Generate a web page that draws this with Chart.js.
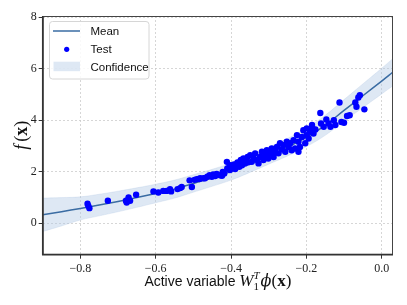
<!DOCTYPE html>
<html>
<head>
    <title>Active variable response surface</title>
    <script src="https://cdn.jsdelivr.net/npm/chart.js"></script>
    <style>
        body {
            margin: 0;
            padding: 0;
            background: #fff;
        }

        #chart-container {
            width: 407px;
            height: 305px;
        }
    </style>
</head>
<body>
    <div id="chart-container">
        <canvas id="myChart"></canvas>
    </div>

    <script>
        const gridX = [-0.9, -0.85, -0.8, -0.75, -0.7, -0.65, -0.6, -0.55, -0.5, -0.45,
                       -0.4, -0.35, -0.3, -0.25, -0.2, -0.15, -0.1, -0.05, 0, 0.03];
        const meanY = [0.32, 0.44, 0.57, 0.70, 0.84, 0.99, 1.15, 1.32, 1.54, 1.76,
                       2.00, 2.30, 2.62, 2.95, 3.33, 3.80, 4.38, 4.95, 5.52, 5.87];
        const upperY = [0.97, 0.99, 1.02, 1.12, 1.24, 1.37, 1.51, 1.67, 1.88, 2.09,
                        2.33, 2.63, 2.95, 3.29, 3.69, 4.19, 4.80, 5.41, 6.02, 6.40];
        const lowerY = [-0.33, -0.11, 0.12, 0.28, 0.44, 0.61, 0.79, 0.97, 1.20, 1.43,
                        1.67, 1.97, 2.29, 2.61, 2.97, 3.41, 3.96, 4.49, 5.02, 5.34];

        // test samples
        const testX = [-0.781, -0.779, -0.776, -0.727, -0.679, -0.672, -0.668, -0.677, -0.652,
                       -0.606, -0.593, -0.580, -0.571, -0.562, -0.559, -0.542, -0.535, -0.531,
                       -0.510, -0.504, -0.497, -0.491, -0.482, -0.473, -0.484, -0.469, -0.463,
                       -0.457, -0.451, -0.447, -0.442, -0.438, -0.429, -0.424, -0.422, -0.418,
                       -0.411, -0.410, -0.404, -0.403, -0.401, -0.396, -0.392, -0.389, -0.385,
                       -0.383, -0.378, -0.374, -0.371, -0.367, -0.363, -0.360, -0.356, -0.354,
                       -0.349, -0.345, -0.340, -0.336, -0.331, -0.327, -0.323, -0.318, -0.314,
                       -0.309, -0.305, -0.301, -0.296, -0.292, -0.287, -0.283, -0.278, -0.274,
                       -0.270, -0.265, -0.261, -0.256, -0.252, -0.247, -0.243, -0.239, -0.234,
                       -0.230, -0.225, -0.221, -0.217, -0.212, -0.208, -0.203, -0.199, -0.194,
                       -0.190, -0.185, -0.181, -0.221, -0.199, -0.185, -0.176, -0.163, -0.161,
                       -0.154, -0.147, -0.141, -0.136, -0.127, -0.123, -0.112, -0.107, -0.100,
                       -0.092, -0.085, -0.070, -0.067, -0.062, -0.058, -0.046];
        const testY = [0.75, 0.67, 0.58, 0.87, 0.87, 1.00, 0.87, 0.80, 1.10,
                       1.23, 1.19, 1.25, 1.25, 1.32, 1.23, 1.32, 1.36, 1.40,
                       1.66, 1.40, 1.68, 1.71, 1.74, 1.74, 1.71, 1.74, 1.80,
                       1.86, 1.80, 1.89, 1.83, 1.91, 1.86, 1.84, 1.99, 1.93,
                       2.38, 2.12, 2.19, 2.06, 2.25, 2.15, 2.28, 2.10, 2.25,
                       2.36, 2.19, 2.45, 2.25, 2.51, 2.32, 2.41, 2.57, 2.36,
                       2.64, 2.38, 2.51, 2.71, 2.45, 2.32, 2.57, 2.77, 2.45,
                       2.64, 2.83, 2.51, 2.71, 2.90, 2.57, 2.77, 2.96, 2.71,
                       3.10, 2.86, 3.03, 2.77, 3.16, 2.96, 3.10, 2.83, 3.22,
                       2.90, 3.42, 3.16, 2.96, 3.35, 3.61, 3.10, 3.42, 3.29,
                       3.55, 3.74, 3.48, 2.77, 3.68, 3.81, 3.64, 4.28, 3.87,
                       3.74, 4.03, 3.87, 3.74, 4.00, 3.81, 4.69, 3.93, 3.90,
                       4.16, 4.19, 4.69, 4.52, 4.88, 4.97, 4.42];

        const xTicks = [-0.8, -0.6, -0.4, -0.2, 0.0];
        const yTicks = [0, 2, 4, 6, 8];

        const lineColor = '#3a6ca3';
        const bandColor = 'rgba(176, 200, 228, 0.42)';
        const pointColor = '#0000ff';
        const serif = '"Liberation Serif", "DejaVu Serif", serif';
        const sans = '"Liberation Sans", "DejaVu Sans", sans-serif';

        const toPoints = (xs, ys) => xs.map((x, i) => ({ x: x, y: ys[i] }));

        function fmtX(v) {
            const s = Math.abs(v).toFixed(1);
            return v < -1e-9 ? '\u2212' + s : s;
        }

        // frame, legend and the math-style axis titles
        const decorPlugin = {
            id: 'decor',
            afterDraw(chart) {
                const ctx = chart.ctx;
                const a = chart.chartArea;
                ctx.save();

                // frame
                ctx.strokeStyle = '#444';
                ctx.lineWidth = 1;
                ctx.strokeRect(a.left + 0.5, a.top + 0.5, a.right - a.left - 1, a.bottom - a.top - 1);
                ctx.lineWidth = 1.5;
                ctx.strokeStyle = '#333';
                ctx.beginPath();
                ctx.moveTo(a.left, a.top);
                ctx.lineTo(a.left, a.bottom);
                ctx.lineTo(a.right, a.bottom);
                ctx.stroke();

                // legend box
                const lx = 49.5, ly = 21.5, lw = 99.5, lh = 57.5, r = 3;
                ctx.beginPath();
                ctx.moveTo(lx + r, ly);
                ctx.arcTo(lx + lw, ly, lx + lw, ly + lh, r);
                ctx.arcTo(lx + lw, ly + lh, lx, ly + lh, r);
                ctx.arcTo(lx, ly + lh, lx, ly, r);
                ctx.arcTo(lx, ly, lx + lw, ly, r);
                ctx.closePath();
                ctx.fillStyle = 'rgba(255,255,255,0.85)';
                ctx.fill();
                ctx.strokeStyle = '#d6d6d6';
                ctx.lineWidth = 1;
                ctx.stroke();

                ctx.strokeStyle = lineColor;
                ctx.lineWidth = 1.5;
                ctx.beginPath();
                ctx.moveTo(53, 31);
                ctx.lineTo(80, 31);
                ctx.stroke();

                ctx.fillStyle = pointColor;
                ctx.beginPath();
                ctx.arc(66.7, 49.3, 2.6, 0, Math.PI * 2);
                ctx.fill();

                ctx.fillStyle = bandColor;
                ctx.fillRect(53.5, 61.7, 26.5, 9.5);

                ctx.fillStyle = '#111';
                ctx.font = '11.5px ' + sans;
                ctx.textBaseline = 'middle';
                ctx.textAlign = 'left';
                ctx.fillText('Mean', 90.5, 31.5);
                ctx.fillText('Test', 90.5, 50);
                ctx.fillText('Confidence', 90.5, 67.5);

                // x title: Active variable W_1^T phi(x)
                const parts = [
                    { t: 'Active variable ', f: '14px ' + sans, dy: 0 },
                    { t: 'W', f: 'italic 17px ' + serif, dy: 0 },
                    { t: '1', f: '11px ' + serif, dy: 3.5, k: true },
                    { t: 'T', f: 'italic 11px ' + serif, dy: -7 },
                    { t: '\u03d5', f: 'italic 16px "DejaVu Serif", serif', dy: 0, pad: 1 },
                    { t: '(', f: '17px ' + serif, dy: 0 },
                    { t: 'x', f: 'bold 17px ' + serif, dy: 0 },
                    { t: ')', f: '17px ' + serif, dy: 0 }
                ];
                ctx.textBaseline = 'alphabetic';
                const widths = parts.map(p => {
                    ctx.font = p.f;
                    return ctx.measureText(p.t).width;
                });
                // sub and sup share one column
                const total = widths.reduce((s, w, i) => s + (parts[i].k ? 0 : w) + (parts[i].pad || 0), 0);
                let cx = (a.left + a.right) / 2 - total / 2;
                const base = 286;
                parts.forEach((p, i) => {
                    ctx.font = p.f;
                    cx += p.pad || 0;
                    ctx.fillText(p.t, cx, base + p.dy);
                    if (!p.k) cx += widths[i];
                });

                // y title: f(x)
                ctx.translate(27, (a.top + a.bottom) / 2);
                ctx.rotate(-Math.PI / 2);
                const yp = [
                    { t: 'f', f: 'italic 18px ' + serif, pad: 0 },
                    { t: '(', f: '18px ' + serif, pad: 3 },
                    { t: 'x', f: 'bold 18px ' + serif, pad: 0 },
                    { t: ')', f: '18px ' + serif, pad: 0 }
                ];
                const yw = yp.map(p => { ctx.font = p.f; return ctx.measureText(p.t).width; });
                const ytotal = yw.reduce((s, w, i) => s + w + yp[i].pad, 0);
                let yx = -ytotal / 2;
                yp.forEach((p, i) => {
                    ctx.font = p.f;
                    yx += p.pad;
                    ctx.fillText(p.t, yx, 0);
                    yx += yw[i];
                });

                ctx.restore();
            }
        };

        const chartCanvas = document.getElementById('myChart');

        const gridStyle = {
            color: '#cccccc',
            lineWidth: 0.8,
            tickColor: '#333',
            tickBorderDash: [],
            tickLength: 4,
            tickWidth: 1
        };

        const myChart = new Chart(chartCanvas, {
            type: 'scatter',
            data: {
                datasets: [
                    {
                        label: 'Test',
                        data: toPoints(testX, testY),
                        backgroundColor: pointColor,
                        borderWidth: 0,
                        pointRadius: 3.2,
                        order: 0
                    },
                    {
                        label: 'Mean',
                        data: toPoints(gridX, meanY),
                        showLine: true,
                        borderColor: lineColor,
                        borderWidth: 1.5,
                        pointRadius: 0,
                        tension: 0.4,
                        order: 1
                    },
                    {
                        label: 'Confidence',
                        data: toPoints(gridX, upperY),
                        showLine: true,
                        borderColor: 'rgba(150,180,215,0.35)',
                        borderWidth: 0.6,
                        pointRadius: 0,
                        tension: 0.4,
                        backgroundColor: bandColor,
                        fill: '+1',
                        order: 2
                    },
                    {
                        label: 'lower',
                        data: toPoints(gridX, lowerY),
                        showLine: true,
                        borderColor: 'rgba(150,180,215,0.35)',
                        borderWidth: 0.6,
                        pointRadius: 0,
                        tension: 0.4,
                        fill: false,
                        order: 3
                    }
                ]
            },
            options: {
                responsive: true,
                maintainAspectRatio: false,
                animation: false,
                layout: {
                    padding: { top: 16, right: 14, left: 0, bottom: 0 }
                },
                plugins: {
                    legend: { display: false },
                    tooltip: { enabled: false }
                },
                scales: {
                    x: {
                        type: 'linear',
                        min: -0.9,
                        max: 0.03,
                        afterFit: s => { s.height = 50.3; },
                        afterBuildTicks: s => { s.ticks = xTicks.map(v => ({ value: v })); },
                        border: { display: false, dash: [2, 2] },
                        grid: gridStyle,
                        ticks: {
                            padding: 3,
                            color: '#222',
                            font: { family: serif, size: 12 },
                            maxRotation: 0,
                            callback: v => fmtX(v)
                        }
                    },
                    y: {
                        type: 'linear',
                        min: -1.23,
                        max: 8.05,
                        afterFit: s => { s.width = 42.7; },
                        afterBuildTicks: s => { s.ticks = yTicks.map(v => ({ value: v })); },
                        border: { display: false, dash: [2, 2] },
                        grid: gridStyle,
                        ticks: {
                            padding: 2,
                            color: '#222',
                            font: { family: serif, size: 12 },
                            callback: v => String(v)
                        }
                    }
                }
            },
            plugins: [decorPlugin]
        });
    </script>
</body>
</html>
